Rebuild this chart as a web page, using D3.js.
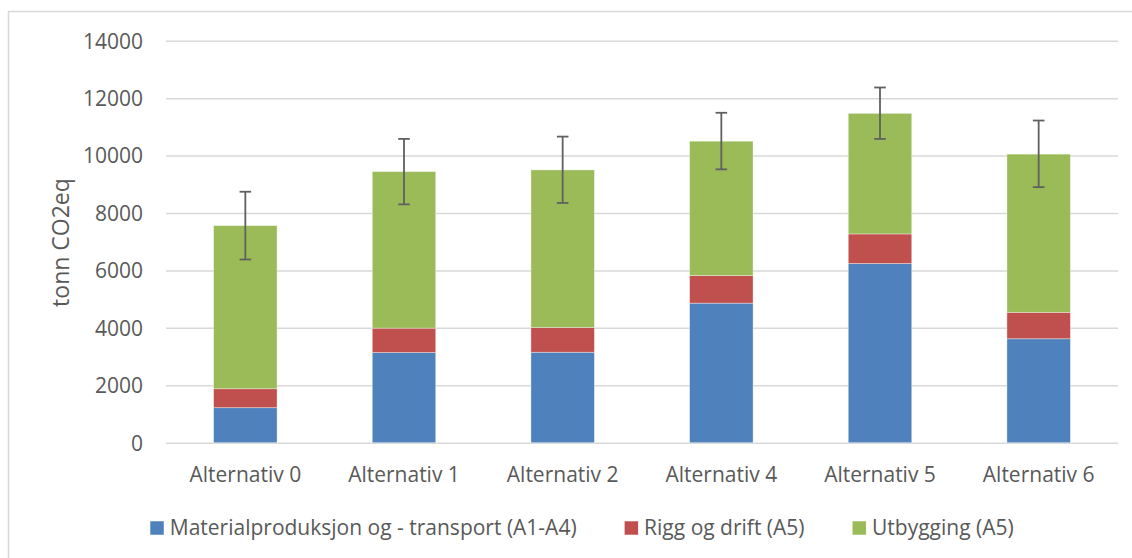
<!DOCTYPE html>
<html>
<head>
<meta charset="utf-8">
<script src="https://cdn.jsdelivr.net/npm/d3@7"></script>
<style>
  html, body { margin: 0; padding: 0; background: #fff; }
  svg { display: block; }
  text { font-family: "Open Sans", sans-serif; fill: #595959; }
</style>
</head>
<body>
<svg id="chart" width="1132" height="558"></svg>
<script>
const categories = ["Alternativ 0", "Alternativ 1", "Alternativ 2", "Alternativ 4", "Alternativ 5", "Alternativ 6"];
const seriesNames = ["Materialproduksjon og - transport (A1-A4)", "Rigg og drift (A5)", "Utbygging (A5)"];
const seriesColors = ["#4F81BD", "#C0504D", "#9BBB59"];
const material = [1220, 3140, 3150, 4860, 6240, 3620];
const rigg = [660, 850, 860, 960, 1030, 920];
const utbygging = [5680, 5450, 5490, 4680, 4200, 5510];
const errorPlus = [1180, 1140, 1160, 990, 900, 1170];
const errorMinus = [1180, 1140, 1150, 980, 890, 1150];
const yTicks = [0, 2000, 4000, 6000, 8000, 10000, 12000, 14000];
const yLabel = "tonn CO2eq";

const svg = d3.select("#chart");
const plot = { left: 166, right: 1118, top: 40.7, bottom: 442.7 };

// chart frame
svg.append("rect").attr("x", 8.5).attr("y", 11.5).attr("width", 1200).attr("height", 600)
  .attr("fill", "none").attr("stroke", "#d9d9d9").attr("stroke-width", 1.5);

const x = d3.scaleBand().domain(categories).range([plot.left, plot.right])
  .paddingInner(0.6).paddingOuter(0.3);
const y = d3.scaleLinear().domain([0, 14000]).range([plot.bottom, plot.top]);

// gridlines
const yAxis = d3.axisLeft(y).tickValues(yTicks).tickSize(-(plot.right - plot.left)).tickFormat(d3.format("d")).tickPadding(23);
const gy = svg.append("g").attr("transform", `translate(${plot.left},0)`).call(yAxis);
gy.select(".domain").remove();
gy.selectAll(".tick line").attr("stroke", "#d9d9d9").attr("stroke-width", 1.5);
gy.selectAll(".tick text").attr("font-size", 21).attr("fill", "#595959")
  .attr("font-family", "Open Sans, sans-serif").attr("dy", "0.35em");

// stacked data
const table = categories.map((c, i) => ({ cat: c, s0: material[i], s1: rigg[i], s2: utbygging[i] }));
const stack = d3.stack().keys(["s0", "s1", "s2"]);
const layers = stack(table);

svg.append("g").selectAll("g").data(layers).join("g")
  .attr("fill", (d, i) => seriesColors[i])
  .selectAll("rect").data(d => d).join("rect")
  .attr("x", d => x(d.data.cat))
  .attr("width", x.bandwidth())
  .attr("y", d => y(d[1]))
  .attr("height", d => y(d[0]) - y(d[1]))
  .attr("stroke", "rgba(255,255,255,0.45)").attr("stroke-width", 0.8);

// error bars
const totals = table.map(d => d.s0 + d.s1 + d.s2);
const eg = svg.append("g").attr("stroke", "#606060").attr("stroke-width", 1.8).attr("fill", "none");
categories.forEach((c, i) => {
  const cx = x(c) + x.bandwidth() / 2;
  const hi = y(totals[i] + errorPlus[i]);
  const lo = y(totals[i] - errorMinus[i]);
  eg.append("line").attr("x1", cx).attr("x2", cx).attr("y1", hi).attr("y2", lo);
  eg.append("line").attr("x1", cx - 5.8).attr("x2", cx + 5.8).attr("y1", hi).attr("y2", hi);
  eg.append("line").attr("x1", cx - 5.8).attr("x2", cx + 5.8).attr("y1", lo).attr("y2", lo);
});

// category labels
const xAxis = d3.axisBottom(x).tickSize(0).tickPadding(0);
const gx = svg.append("g").attr("transform", `translate(0,475)`).call(xAxis);
gx.select(".domain").remove();
gx.selectAll(".tick text").attr("font-size", 21).attr("fill", "#595959")
  .attr("font-family", "Open Sans, sans-serif").attr("dy", "0.35em").attr("y", 0);

// y label
svg.append("text").attr("transform", `translate(69,242.5) rotate(-90)`)
  .attr("text-anchor", "middle").attr("font-size", 23).text(yLabel);

// legend
const lg = svg.append("g");
const items = seriesNames.map((n, i) => {
  const g = lg.append("g");
  g.append("rect").attr("width", 13.5).attr("height", 13.5).attr("y", -6.75).attr("fill", seriesColors[i]);
  const t = g.append("text").attr("x", 19.5).attr("dy", "0.35em").attr("font-size", 21).text(n);
  return { g, w: 19.5 + t.node().getComputedTextLength() };
});
const gap = 48;
const totalW = d3.sum(items, d => d.w) + gap * (items.length - 1);
let lx = 582 - totalW / 2;
items.forEach(it => { it.g.attr("transform", `translate(${lx},528)`); lx += it.w + gap; });
</script>
</body>
</html>
